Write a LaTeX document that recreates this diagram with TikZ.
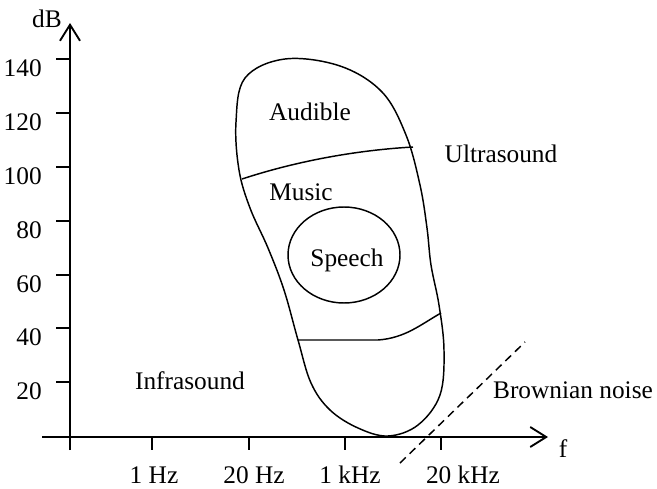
\documentclass[tikz,border=0pt]{standalone}
\usepackage{fontspec}
\setmainfont{Liberation Serif}
\usetikzlibrary{arrows.meta}
\tikzstyle{none}=[]
\tikzstyle{lbl}=[inner sep=0pt,font=\fontsize{19}{22}\selectfont]
\tikzstyle{axis}=[line width=1.4pt,-{Straight Barb[length=12pt,width=15pt,line width=1.4pt]}]
\tikzstyle{tick}=[line width=1.4pt]
\tikzstyle{curve}=[line width=1.1pt,line join=round]

\begin{document}
\begin{tikzpicture}[x=0.75pt,y=-0.75pt]
        \useasboundingbox (0, 0) rectangle (657, 489);
        % axes
        \coordinate (o) at (70, 437);
        \coordinate (xs) at (42, 437);
        \coordinate (xe) at (548, 437);
        \coordinate (ys) at (70, 450);
        \coordinate (ye) at (70, 23);
        \draw [style=axis] (xs) to (xe);
        \draw [style=axis] (ys) to (ye);
        \node [style=lbl, anchor=base] (0) at (47, 27) {dB};
        \node [style=lbl, anchor=base] (1) at (563, 457) {f};
        % dB ticks
        \foreach \v/\y in {20/382, 40/328, 60/275, 80/221, 100/167, 120/113, 140/59} {
            \draw [style=tick] (56, \y) to (70, \y);
            \node [style=lbl, anchor=base east] at (42, \y+17) {\v};
        }
        % frequency ticks
        \foreach \x in {152, 249, 345, 441} {
            \draw [style=tick] (\x, 437) to (\x, 450);
        }
        \node [style=lbl, anchor=base] (2) at (154, 483) {1 Hz};
        \node [style=lbl, anchor=base] (3) at (254, 483) {20 Hz};
        \node [style=lbl, anchor=base] (4) at (350, 483) {1 kHz};
        \node [style=lbl, anchor=base] (5) at (463, 483) {20 kHz};
        % audible region
        \draw [style=curve] plot [smooth cycle, tension=0.6] coordinates {
            (236, 122) (245, 78) (285, 59) (340, 66) (382, 92) (406, 135)
            (420, 185) (427, 228) (431, 265) (439, 305) (444, 350) (440, 395)
            (418, 425) (388, 436) (358, 428) (330, 410) (311, 383) (298, 340)
            (284, 290) (268, 248) (250, 208) (239, 170)};
        \coordinate (6) at (242, 179);
        \coordinate (7) at (413, 147);
        \coordinate (8) at (298, 340);
        \coordinate (9) at (441, 313);
        \draw [style=curve] (6) .. controls (300, 160) and (360, 150) .. (7);
        \draw [style=curve] (8) -- (378, 340) .. controls (405, 338) and (420, 325) .. (9);
        \draw [style=curve] (344, 255) ellipse [x radius=56, y radius=48];
        % brownian noise
        \coordinate (10) at (400, 463);
        \coordinate (11) at (525, 342);
        \draw [line width=1.1pt, dashed, dash pattern=on 6pt off 4pt] (10) to (11);
        % region labels
        \node [style=lbl, anchor=base] (12) at (310, 120) {Audible};
        \node [style=lbl, anchor=base] (13) at (301, 200) {Music};
        \node [style=lbl, anchor=base] (14) at (347, 266) {Speech};
        \node [style=lbl, anchor=base] (15) at (501, 162) {Ultrasound};
        \node [style=lbl, anchor=base] (16) at (190, 389) {Infrasound};
        \node [style=lbl, anchor=base] (17) at (573, 398) {Brownian noise};
    \end{tikzpicture}
\end{document}
